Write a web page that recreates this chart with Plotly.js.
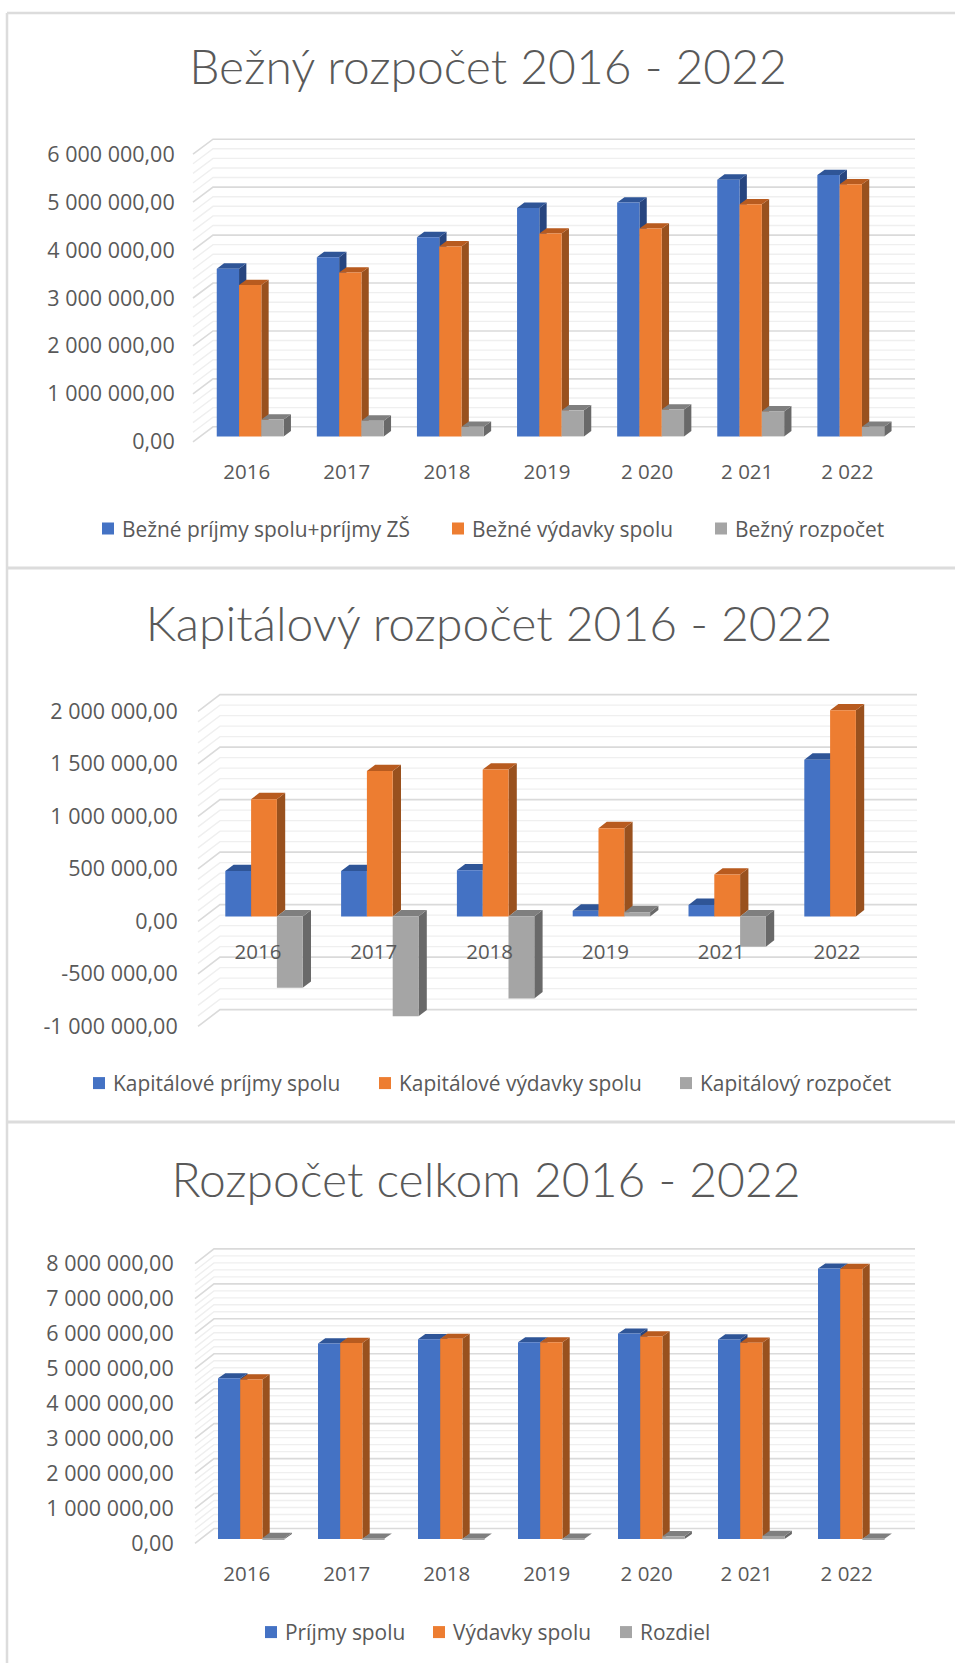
<!DOCTYPE html>
<html><head><meta charset="utf-8">
<script src="https://cdn.plot.ly/plotly-3.0.1.min.js"></script>
<style>html,body{margin:0;padding:0;background:#fff}
.p{position:absolute;left:0;width:955px}
text.legendtext,text.legend2text,text.legend3text{transform:translateX(-6px)}</style></head>
<body>
<div id="c1" class="p"></div><div id="c2" class="p"></div><div id="c3" class="p"></div>
<script>
// ---------- data (in euros) ----------
const catsBezny = ['2016','2017','2018','2019','2 020','2 021','2 022'];
const bezPrijmy = [3500000,3740000,4156000,4767000,4879000,5356000,5453000];
const bezVydavky = [3158000,3419000,3963000,4231000,4335000,4842000,5259000];
const bezRozpocet = [350000,328000,200000,544000,559000,521000,200000];

const catsKap = ['2016','2017','2018','2019','2021','2022'];
const kapPrijmy = [432000,432000,439000,54000,109000,1493000];
const kapVydavky = [1116000,1384000,1398000,840000,398000,1963000];
const kapRozpocet = [-680000,-952000,-782000,40000,-289000,null];

const catsCelkom = ['2016','2017','2018','2019','2 020','2 021','2 022'];
const celPrijmy = [4600000,5600000,5720000,5630000,5880000,5710000,7740000];
const celVydavky = [4570000,5610000,5730000,5630000,5800000,5620000,7730000];
const celRozdiel = [30000,15000,10000,10000,80000,90000,10000];

const ticksBezny = [0,1e6,2e6,3e6,4e6,5e6,6e6];
const tickTextBezny = ['0,00','1 000 000,00','2 000 000,00','3 000 000,00','4 000 000,00','5 000 000,00','6 000 000,00'];
const ticksKap = [-1e6,-5e5,0,5e5,1e6,1.5e6,2e6];
const tickTextKap = ['-1 000 000,00','-500 000,00','0,00','500 000,00','1 000 000,00','1 500 000,00','2 000 000,00'];
const ticksCelkom = [0,1e6,2e6,3e6,4e6,5e6,6e6,7e6,8e6];
const tickTextCelkom = ['0,00','1 000 000,00','2 000 000,00','3 000 000,00','4 000 000,00','5 000 000,00','6 000 000,00','7 000 000,00','8 000 000,00'];

// ---------- styles ----------
const FRONT = ['#4472C4','#ED7D31','#A5A5A5'];
const TOP   = ['#2F5597','#B85B1F','#7F7F7F'];
const SIDE  = ['#27457F','#99511E','#696969'];
const TXT = '#595959';
const LABEL_FONT = 'Open Sans, sans-serif';
const W = 955;

function draw(id, o) {
  const el = document.getElementById(id);
  const H = o.bottom - o.top;
  el.style.top = o.top + 'px'; el.style.height = H + 'px';
  const L = o.frontX - 3, R = o.rightX + 3, T = o.pT, B = o.pB;
  const xr = c => [(L - c) / o.period, (R - c) / o.period];
  const yr = z => [(z - B) / o.k * 1e6, (z - T) / o.k * 1e6];
  const dom = {x: [L / W, R / W], y: [1 - (B - o.top) / H, 1 - (T - o.top) / H]};
  const traces = [];

  // back wall and left wall gridlines, on the front-wall axes
  const u = px => (px - o.labelC) / o.period;
  const dV = o.wallDy / o.k * 1e6;
  const gx = [[], []], gy = [[], []];
  const lo = o.ticks[0], hi = o.ticks[o.ticks.length - 1], st = o.ticks[1] - o.ticks[0];
  const minorStep = st / o.minorN;
  for (let i = 0; i <= Math.round((hi - lo) / minorStep); i++) {
    const v = lo + i * minorStep;
    const g = i % o.minorN === 0 ? 1 : 0;
    gx[g].push(u(o.frontX), u(o.frontX + o.wallDx), u(o.rightX), null);
    gy[g].push(v, v + dV, v + dV, null);
  }
  [[0, '#efefef', 1.4], [1, '#dadada', 1.6]].forEach(([g, c, w]) =>
    traces.push({type: 'scatter', mode: 'lines', x: gx[g], y: gy[g], line: {color: c, width: w},
      showlegend: false, hoverinfo: 'skip', xaxis: 'x', yaxis: 'y'}));

  // depth faces, on bar-plane axes below the front faces
  const ux = o.barW / o.period, ddx = o.depthDx / o.period, ddy = o.depthDy / o.k * 1e6;
  o.series.forEach((s, si) => {
    const sx = [], sy = [], tx = [], ty = [];
    s.values.forEach((v, i) => {
      if (v === null) return;
      const xl = i + (si - 1.5) * ux, xr2 = xl + ux, hiV = Math.max(v, 0), loV = Math.min(v, 0);
      sx.push(xr2, xr2 + ddx, xr2 + ddx, xr2, xr2, null);
      sy.push(loV, loV + ddy, hiV + ddy, hiV, loV, null);
      tx.push(xl, xr2, xr2 + ddx, xl + ddx, xl, null);
      ty.push(hiV, hiV, hiV + ddy, hiV + ddy, hiV, null);
    });
    [[sx, sy, SIDE[si]], [tx, ty, TOP[si]]].forEach(([a, b, c]) =>
      traces.push({type: 'scatter', mode: 'lines', x: a, y: b, fill: 'toself', fillcolor: c,
        line: {width: 0, color: c}, showlegend: false, hoverinfo: 'skip', xaxis: 'x2', yaxis: 'y2'}));
  });

  // front faces: real bars with a legend each
  const legendKeys = ['legend', 'legend2', 'legend3'];
  o.series.forEach((s, si) => {
    traces.push({type: 'bar', name: s.name, x: o.cats.map((_, i) => i + (si - 1) * ux), y: s.values,
      width: ux, marker: {color: FRONT[si], line: {width: 0}}, xaxis: 'x3', yaxis: 'y3',
      legend: legendKeys[si], showlegend: true, hoverinfo: 'x+y+name'});
  });

  const hidden = (extra) => Object.assign({visible: false, fixedrange: true, showgrid: false, zeroline: false}, extra);
  const layout = {
    width: W, height: H, margin: {l: 0, r: 0, t: 0, b: 0, autoexpand: false},
    paper_bgcolor: '#fff', plot_bgcolor: 'rgba(0,0,0,0)', barmode: 'overlay',
    title: {text: o.title, x: o.titleX / W, xanchor: 'center', y: 1 - (o.titleY - o.top) / H, yanchor: 'middle', yref: 'paper',
      font: {family: 'Lato, sans-serif', weight: 300, size: o.titleSize, color: TXT}},
    xaxis: {domain: dom.x, range: xr(o.labelC), tickmode: 'array', tickvals: o.cats.map((_, i) => i), ticktext: o.cats,
      showgrid: false, zeroline: false, showline: false, ticks: '', tickfont: {family: LABEL_FONT, size: 20.5, color: TXT}, fixedrange: true,
      anchor: 'free', position: 1 - (o.labelLine - o.top) / H, automargin: false},
    yaxis: {domain: dom.y, range: yr(o.frontZero), tickmode: 'array', tickvals: o.ticks, ticktext: o.tickText,
      showgrid: false, zeroline: false, showline: false, ticks: 'outside', ticklen: o.tickLen, tickcolor: 'rgba(0,0,0,0)',
      tickfont: {family: LABEL_FONT, size: 21.5, color: TXT}, fixedrange: true, anchor: 'x', automargin: false},
    xaxis2: hidden({overlaying: 'x', domain: dom.x, range: xr(o.barC), anchor: 'y2'}),
    yaxis2: hidden({overlaying: 'y', domain: dom.y, range: yr(o.barZero), anchor: 'x2'}),
    xaxis3: hidden({overlaying: 'x', domain: dom.x, range: xr(o.barC), anchor: 'y3'}),
    yaxis3: hidden({overlaying: 'y', domain: dom.y, range: yr(o.barZero), anchor: 'x3'}),
    shapes: o.frame.map(f => ({type: 'line', xref: 'paper', yref: 'paper', layer: 'below',
      x0: f[0] / W, x1: f[2] / W, y0: 1 - (f[1] - o.top) / H, y1: 1 - (f[3] - o.top) / H,
      line: {color: '#dcdcdc', width: f[4]}}))
  };
  legendKeys.forEach((k, i) => {
    layout[k] = {x: (o.legendX[i] - 14) / W, xanchor: 'left', y: 1 - (o.legendY - o.top) / H, yanchor: 'middle',
      orientation: 'v', bgcolor: 'rgba(0,0,0,0)', borderwidth: 0,
      font: {family: LABEL_FONT, size: o.legendSize, color: TXT}};
  });
  return Plotly.newPlot(el, traces, layout, {displayModeBar: false});
}

draw('c1', {top: 0, bottom: 560, title: 'Bežný rozpočet 2016 - 2022', titleX: 488, titleY: 67, titleSize: 48,
  cats: catsBezny, ticks: ticksBezny, tickText: tickTextBezny, minorN: 5,
  series: [{name: 'Bežné príjmy spolu+príjmy ZŠ', values: bezPrijmy}, {name: 'Bežné výdavky spolu', values: bezVydavky}, {name: 'Bežný rozpočet', values: bezRozpocet}],
  frontX: 193, rightX: 915, wallDx: 20, wallDy: 15, pT: 130, pB: 450,
  period: 100.1, labelC: 246.7, barC: 250.2, barW: 22.3, depthDx: 7.3, depthDy: 5.4,
  k: 47.93, frontZero: 441.8, barZero: 436.4, labelLine: 457, tickLen: 10, legendSize: 20.9,
  legendX: [102, 452, 715], legendY: 529,
  frame: [[7, 13, 955, 13, 2.5], [7, 13, 7, 560, 2.5]]});

draw('c2', {top: 560, bottom: 1115, title: 'Kapitálový rozpočet 2016 - 2022', titleX: 489, titleY: 624, titleSize: 48,
  cats: catsKap, ticks: ticksKap, tickText: tickTextKap, minorN: 5,
  series: [{name: 'Kapitálové príjmy spolu', values: kapPrijmy}, {name: 'Kapitálové výdavky spolu', values: kapVydavky}, {name: 'Kapitálový rozpočet', values: kapRozpocet}],
  frontX: 198, rightX: 917, wallDx: 22, wallDy: 16.8, pT: 685, pB: 1035,
  period: 115.8, labelC: 258, barC: 264, barW: 25.8, depthDx: 8.3, depthDy: 6.4,
  k: 105, frontZero: 921.4, barZero: 916.4, labelLine: 937, tickLen: 12, legendSize: 20.9,
  legendX: [93, 379, 680], legendY: 1083.5,
  frame: [[7, 568, 955, 568, 3], [7, 560, 7, 1115, 2.5]]});

draw('c3', {top: 1115, bottom: 1663, title: 'Rozpočet celkom 2016 - 2022', titleX: 486, titleY: 1180, titleSize: 48,
  cats: catsCelkom, ticks: ticksCelkom, tickText: tickTextCelkom, minorN: 5,
  series: [{name: 'Príjmy spolu', values: celPrijmy}, {name: 'Výdavky spolu', values: celVydavky}, {name: 'Rozdiel', values: celRozdiel}],
  frontX: 195, rightX: 915, wallDx: 19, wallDy: 14.8, pT: 1238, pB: 1552,
  period: 100, labelC: 246.7, barC: 251.3, barW: 22.2, depthDx: 7.3, depthDy: 5.2,
  k: 34.95, frontZero: 1543.3, barZero: 1539.1, labelLine: 1559, tickLen: 13, legendSize: 20.9,
  legendX: [265, 433, 620], legendY: 1632.5,
  frame: [[7, 1122, 955, 1122, 3], [7, 1115, 7, 1663, 2.5]]});
</script>
</body></html>
